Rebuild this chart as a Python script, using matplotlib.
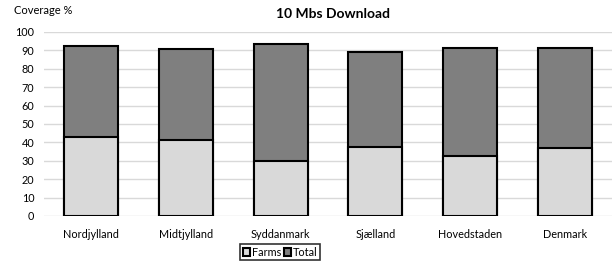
import matplotlib.pyplot as plt
import numpy as np

regions = ['Nordjylland', 'Midtjylland', 'Syddanmark', 'Sjælland', 'Hovedstaden', 'Denmark']
farms = [42.9, 41.5, 29.9, 37.3, 32.8, 37.1]
total = [92.2, 90.8, 93.3, 89.0, 91.1, 91.1]
yticks = list(range(0, 101, 10))

plt.rcParams['font.family'] = ['Lato', 'DejaVu Sans']

fig = plt.figure(figsize=(6.13, 2.66), dpi=100)
ax = fig.add_axes([44 / 613, 1 - 216 / 266, 568 / 613, 184 / 266])

x = np.arange(len(regions))
w = 0.57
ax.bar(x, total, w, color='#7f7f7f', edgecolor='black', linewidth=1.5, label='Total', zorder=3)
ax.bar(x, farms, w, color='#d9d9d9', edgecolor='black', linewidth=1.5, label='Farms', zorder=4)

ax.set_xlim(-0.5, len(regions) - 0.5)
ax.set_ylim(0, 100)
ax.set_yticks(yticks)
ax.set_xticks(x)
ax.set_xticklabels(regions)
ax.tick_params(length=0, labelsize=7.8, colors='black')
ax.tick_params(axis='x', pad=9)
ax.tick_params(axis='y', pad=7)
ax.grid(axis='y', color='#d9d9d9', linewidth=1, zorder=0)
for s in ax.spines.values():
    s.set_visible(False)

fig.text(14 / 613, 1 - 10 / 266, 'Coverage %', fontsize=8, va='center', ha='left')
fig.text(333 / 613, 1 - 14 / 266, '10 Mbs Download', fontsize=10, fontweight='bold',
         va='center', ha='center')

h, l = ax.get_legend_handles_labels()
leg = fig.legend(h[::-1], l[::-1], loc='center', bbox_to_anchor=(280 / 613, 1 - 252 / 266),
                 ncol=2, fontsize=7.8, frameon=True, fancybox=False, handlelength=0.7,
                 handleheight=0.7, handletextpad=0.15, columnspacing=0.25,
                 borderpad=0.25, borderaxespad=0)
leg.get_frame().set_edgecolor('black')
leg.get_frame().set_linewidth(1.2)

fig.savefig('out.png', dpi=100)
